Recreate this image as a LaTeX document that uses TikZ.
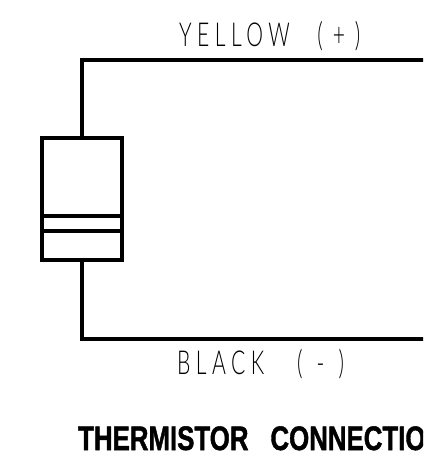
\documentclass[tikz,border=0pt]{standalone}
\usepackage{fontspec}
\setmainfont{Liberation Sans}
\newfontfamily\thinfont[LetterSpace=26]{Lato Light}
\newfontfamily\headfont[FakeBold=1.5]{Liberation Sans Bold}
\usetikzlibrary{positioning}
\tikzset{
  wire/.style={line width=3.2bp,line join=miter},
  body/.style={draw,line width=3.2bp,rectangle,minimum width=80bp,minimum height=122bp,inner sep=0pt},
  band/.style={line width=3.2bp},
  thinlabel/.style={inner sep=0pt,font=\thinfont\fontsize{33bp}{33bp}\selectfont,xscale=0.64},
  headlabel/.style={inner sep=0pt,font=\headfont\fontsize{34bp}{34bp}\selectfont,xscale=0.76}
}
\begin{document}
\begin{tikzpicture}[x=1bp,y=-1bp]
\useasboundingbox (0,0) rectangle (423,458);
\clip (0,0) rectangle (423,458);
\node[body] (therm) at (82,199) {};
\coordinate (tl) at (82,60);
\coordinate (tr) at (430,60);
\coordinate (bl) at (82,339);
\coordinate (br) at (430,339);
\coordinate (b1l) at (42,216);
\coordinate (b1r) at (122,216);
\coordinate (b2l) at (42,231);
\coordinate (b2r) at (122,231);
\draw[wire] (therm.north) -- (tl) -- (tr);
\draw[wire] (therm.south) -- (bl) -- (br);
\draw[band] (b1l) -- (b1r);
\draw[band] (b2l) -- (b2r);
\node[thinlabel,anchor=base west] (yellow) at (179,47) {YELLOW\hspace{1.3em}(\hspace{0.47em}+\hspace{0.47em})};
\node[thinlabel,anchor=base west] (black) at (177,374) {BLACK\hspace{1.55em}(\hspace{0.67em}-\hspace{0.67em})};
\node[headlabel,anchor=base west] (title) at (78,450) {THERMISTOR\hspace{0.85em}CONNECTION};
\end{tikzpicture}
\end{document}
